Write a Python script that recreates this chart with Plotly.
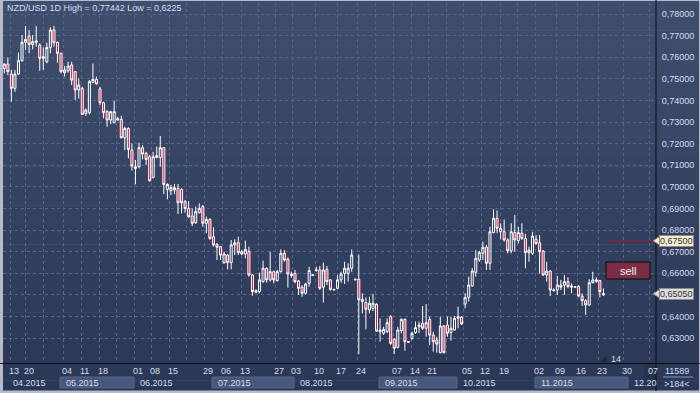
import plotly.graph_objects as go

# ---------------- data ----------------
opens = [
    .7548, .7568, .7522, .7456, .7522, .7584, .7669, .7698, .7659, .7669,
    .7656, .7595, .7579, .7645, .7726, .7669, .7618, .7528, .7537, .7564,
    .7533, .7448, .7456, .7340, .7343, .7483, .7497, .7453, .7389, .7348,
    .7309, .7297, .7309, .7312, .7227, .7270, .7170, .7085, .7093, .7181,
    .7155, .7139, .7044, .7136, .7136, .7181, .6988, .6982, .6985, .6993,
    .6988, .6931, .6900, .6865, .6834, .6880,
    .6908, .6831, .6849, .6769, .6734, .6723, .6649, .6684, .6649, .6731,
    .6741, .6700, .6689, .6700, .6592, .6512, .6515, .6561, .6623, .6569,
    .6607, .6566, .6607, .6692, .6664, .6589, .6599, .6564, .6535, .6507,
    .6553, .6590, .6612, .6615, .6535, .6618, .6569, .6522, .6530, .6569,
    .6599, .6599, .6623, .6569, .6572, .6479, .6464, .6430, .6437, .6456,
    .6329, .6322, .6329, .6399, .6294, .6257, .6334, .6386, .6280, .6298,
    .6325, .6352, .6368, .6345, .6386, .6314, .6291, .6232, .6356, .6360,
    .6325, .6337, .6391, .6396, .6457, .6488, .6541, .6604, .6661, .6692,
    .6720, .6646, .6788, .6854, .6792, .6792, .6754, .6704, .6788, .6751,
    .6785, .6761, .6695, .6692, .6757, .6741, .6703, .6592, .6610, .6519,
    .6522, .6545, .6545, .6561, .6535, .6535, .6538, .6494, .6473, .6453,
    .6556, .6561, .6566, .6500,
]
highs = [
    .7572, .7599, .7541, .7541, .7622, .7703, .7744, .7726, .7703, .7744,
    .7664, .7645, .7667, .7738, .7744, .7672, .7621, .7559, .7579, .7579,
    .7536, .7502, .7463, .7363, .7494, .7571, .7510, .7463, .7394, .7355,
    .7352, .7398, .7324, .7328, .7278, .7275, .7201, .7124, .7204, .7193,
    .7162, .7147, .7162, .7186, .7235, .7184, .7016, .7008, .7013, .7013,
    .6993, .6939, .6934, .6900, .6908, .6923,
    .6916, .6862, .6854, .6812, .6739, .6726, .6700, .6689, .6754, .6757,
    .6769, .6707, .6751, .6723, .6596, .6525, .6603, .6658, .6626, .6700,
    .6612, .6615, .6710, .6707, .6674, .6607, .6615, .6569, .6545, .6556,
    .6630, .6594, .6630, .6633, .6649, .6633, .6572, .6527, .6592, .6607,
    .6653, .6646, .6710, .6574, .6687, .6507, .6488, .6491, .6504, .6461,
    .6391, .6352, .6391, .6406, .6298, .6352, .6391, .6391, .6286, .6329,
    .6376, .6376, .6448, .6457, .6399, .6329, .6306, .6399, .6360, .6399,
    .6399, .6402, .6445, .6402, .6507, .6584, .6623, .6707, .6704, .6746,
    .6731, .6815, .6896, .6890, .6831, .6849, .6762, .6831, .6869, .6815,
    .6831, .6782, .6723, .6792, .6777, .6777, .6707, .6653, .6615, .6530,
    .6587, .6569, .6592, .6581, .6553, .6541, .6545, .6507, .6479, .6572,
    .6607, .6581, .6569, .6530,
]
lows = [
    .7525, .7517, .7394, .7440, .7517, .7579, .7633, .7618, .7636, .7649,
    .7537, .7541, .7572, .7618, .7649, .7574, .7525, .7510, .7528, .7471,
    .7402, .7409, .7332, .7328, .7335, .7479, .7474, .7378, .7317, .7278,
    .7290, .7294, .7306, .7224, .7170, .7132, .7075, .7011, .7085, .7127,
    .7101, .7024, .7039, .7132, .7093, .6966, .6942, .6962, .6966, .6874,
    .6877, .6880, .6858, .6818, .6828, .6877,
    .6815, .6785, .6754, .6723, .6661, .6661, .6643, .6618, .6618, .6684,
    .6684, .6684, .6669, .6584, .6496, .6507, .6507, .6556, .6556, .6561,
    .6553, .6561, .6603, .6653, .6533, .6579, .6553, .6499, .6491, .6502,
    .6538, .6588, .6607, .6522, .6464, .6545, .6519, .6520, .6525, .6556,
    .6550, .6561, .6607, .6567, .6225, .6414, .6340, .6414, .6425, .6329,
    .6283, .6314, .6322, .6268, .6226, .6252, .6322, .6241, .6278, .6291,
    .6319, .6322, .6337, .6306, .6268, .6237, .6232, .6229, .6229, .6306,
    .6288, .6334, .6345, .6360, .6437, .6468, .6538, .6584, .6653, .6661,
    .6615, .6615, .6785, .6785, .6757, .6746, .6692, .6692, .6700, .6738,
    .6754, .6623, .6653, .6684, .6731, .6599, .6587, .6561, .6494, .6515,
    .6499, .6522, .6499, .6530, .6507, .6532, .6491, .6448, .6407, .6448,
    .6553, .6556, .6488, .6495,
]
closes = [
    .7568, .7533, .7456, .7522, .7584, .7669, .7682, .7659, .7672, .7675,
    .7595, .7602, .7645, .7726, .7667, .7618, .7533, .7541, .7559, .7494,
    .7448, .7471, .7335, .7355, .7487, .7497, .7476, .7389, .7343, .7309,
    .7348, .7348, .7315, .7227, .7270, .7173, .7096, .7093, .7181, .7152,
    .7127, .7028, .7139, .7144, .7181, .7011, .7011, .6997, .6996, .6926,
    .6926, .6900, .6861, .6831, .6885, .6900,
    .6831, .6849, .6761, .6731, .6720, .6684, .6689, .6649, .6731, .6741,
    .6695, .6689, .6710, .6592, .6515, .6519, .6569, .6623, .6569, .6607,
    .6569, .6607, .6692, .6661, .6596, .6596, .6561, .6530, .6507, .6550,
    .6612, .6592, .6615, .6530, .6615, .6561, .6525, .6525, .6569, .6596,
    .6623, .6623, .6684, .6572, .6476, .6468, .6433, .6461, .6461, .6332,
    .6337, .6340, .6371, .6275, .6252, .6337, .6386, .6283, .6283, .6322,
    .6348, .6360, .6345, .6371, .6314, .6283, .6272, .6356, .6232, .6322,
    .6345, .6391, .6399, .6365, .6487, .6545, .6610, .6669, .6695, .6720,
    .6646, .6792, .6854, .6808, .6808, .6754, .6704, .6792, .6754, .6788,
    .6761, .6695, .6707, .6772, .6738, .6700, .6592, .6610, .6522, .6522,
    .6545, .6535, .6561, .6538, .6541, .6538, .6494, .6473, .6453, .6556,
    .6569, .6569, .6515, .6505,
]

title_text = "NZD/USD 1D High = 0,77442 Low = 0,6225"
price_ticks = [0.63, 0.64, 0.65, 0.66, 0.67, 0.68, 0.69, 0.70,
               0.71, 0.72, 0.73, 0.74, 0.75, 0.76, 0.77, 0.78]
day_labels = ["13", "20", "04", "11", "18", "01", "08", "15", "29", "06",
              "13", "27", "03", "10", "17", "24", "07", "14", "21", "05",
              "12", "19", "02", "09", "16", "23", "30", "07"]
month_labels = ["04.2015", "05.2015", "06.2015", "07.2015", "08.2015",
                "09.2015", "10.2015", "11.2015", "12.20"]
sell_level = 0.675
bid_level = 0.6505
bar_counter = "11589"
bars_shown = ">184<"
timer_label = "14"

# ---------------- layout helpers (pixel geometry) ----------------
W, H = 700, 393
PL, PR, PT, PB = 3, 656, 3, 363       # plot box in pixels
BAR_PX, BAR0_PX = 3.545, 4.3         # bar spacing / first bar position


def xp(px):
    return (px - PL) / (PR - PL)


def yp(py):
    return (PB - py) / (PB - PT)


x_lo = (PL - BAR0_PX) / BAR_PX
x_hi = (PR - BAR0_PX) / BAR_PX
px_per_unit = 2160.0
y_hi = 0.78 + (14 - PT) / px_per_unit
y_lo = y_hi - (PB - PT) / px_per_unit

day_label_px = [7, 22, 60, 78, 96, 131, 148, 166, 201, 219, 238, 272, 289, 312,
                334, 354, 390, 408, 425, 460, 478, 497, 532, 553, 574, 595, 620, 646]
grid_px = [10, 25, 43, 63, 81, 99, 116, 134, 151, 169, 186, 204, 222, 241, 258,
           275, 292, 315, 337, 357, 375, 393, 411, 428, 446, 463, 481, 500, 517,
           535, 556, 577, 598, 623, 649]
month_box_px = [3, 60, 134, 212, 294, 379, 457, 535, 628, 656]

xs = list(range(len(opens)))

# tick texts: the bid pointer covers the 0,65000 label in the reference
tick_text = []
for v in price_ticks:
    s = ("%.5f" % v).replace(".", ",")
    tick_text.append("" if abs(v - bid_level) < 0.001 else s)

fig = go.Figure()
fig.add_trace(go.Candlestick(
    x=xs, open=opens, high=highs, low=lows, close=closes,
    increasing=dict(line=dict(color="#ffffff", width=1), fillcolor="rgba(0,0,0,0)"),
    decreasing=dict(line=dict(color="#ffffff", width=1), fillcolor="#e8143c"),
    whiskerwidth=0, hoverinfo="skip", showlegend=False,
))

shapes = []
# background gradient
top_c = (64, 78, 110)
bot_c = (42, 55, 86)
n_bands = 40
for i in range(n_bands):
    t = i / (n_bands - 1)
    c = tuple(int(round(top_c[k] + (bot_c[k] - top_c[k]) * t)) for k in range(3))
    y0 = 1 + (390 - 1) * i / n_bands
    y1 = 1 + (390 - 1) * (i + 1) / n_bands
    shapes.append(dict(type="rect", xref="paper", yref="paper", layer="below",
                       x0=xp(3), x1=xp(699), y0=yp(y1 + 0.5), y1=yp(y0),
                       fillcolor="rgb(%d,%d,%d)" % c, line=dict(width=0)))

# month boxes in the time scale
for i in range(len(month_labels)):
    if i % 2 == 1 and i < 8:
        shapes.append(dict(type="rect", xref="paper", yref="paper", layer="below",
                           x0=xp(month_box_px[i]), x1=xp(month_box_px[i + 1]),
                           y0=yp(388), y1=yp(377),
                           fillcolor="#48577c", line=dict(color="#58678c", width=1)))
# future area shading on the time scale
shapes.append(dict(type="rect", xref="paper", yref="paper", layer="below",
                   x0=xp(644), x1=xp(656), y0=yp(389), y1=yp(364),
                   fillcolor="#27324c", line=dict(width=0)))

# separators
shapes.append(dict(type="line", xref="paper", yref="paper", x0=xp(0), x1=xp(700),
                   y0=yp(363.5), y1=yp(363.5), line=dict(color="#0c0c10", width=1)))
shapes.append(dict(type="line", xref="paper", yref="paper", x0=xp(656), x1=xp(656),
                   y0=yp(391), y1=yp(0), line=dict(color="#0c0c10", width=1)))
shapes.append(dict(type="line", xref="paper", yref="paper", x0=xp(663), x1=xp(693),
                   y0=yp(377), y1=yp(377), line=dict(color="#8a96b0", width=1)))

# sell line and sell button
shapes.append(dict(type="line", xref="paper", yref="y", x0=xp(607), x1=xp(656),
                   y0=sell_level, y1=sell_level, line=dict(color="#a01c2c", width=1)))
shapes.append(dict(type="rect", xref="paper", yref="paper",
                   x0=xp(606), x1=xp(650), y0=yp(279), y1=yp(262),
                   fillcolor="#7a2e46", line=dict(color="#0a0a0a", width=1)))

# price pointer arrows
for lvl, col in ((sell_level, "#f3efd0"), (bid_level, "#dcdde0")):
    ypx = 14 + (0.78 - lvl) * px_per_unit
    path = "M %f,%f L %f,%f L %f,%f Z" % (
        xp(653), yp(ypx), xp(660), yp(ypx - 4.5), xp(660), yp(ypx + 4.5))
    shapes.append(dict(type="path", xref="paper", yref="paper", path=path,
                       fillcolor=col, line=dict(color="#8a8a80", width=1)))

# small timer triangle
shapes.append(dict(type="path", xref="paper", yref="paper",
                   path="M %f,%f L %f,%f L %f,%f Z" % (xp(600), yp(362), xp(607), yp(362),
                                                       xp(607), yp(356)),
                   fillcolor="#222b40", line=dict(width=0)))

annotations = []
font_main = "Liberation Sans, Arial, sans-serif"
txt_col = "#d6deee"
annotations.append(dict(text=title_text, xref="paper", yref="paper", x=xp(5), y=yp(8),
                        xanchor="left", yanchor="middle", showarrow=False,
                        font=dict(family=font_main, size=9, color=txt_col)))
for lab, px in zip(day_labels, day_label_px):
    annotations.append(dict(text=lab, xref="paper", yref="paper", x=xp(px), y=yp(371),
                            xanchor="left", yanchor="middle", showarrow=False,
                            font=dict(family=font_main, size=9, color=txt_col)))
for i, lab in enumerate(month_labels):
    px = month_box_px[i] + 4 if i > 0 else 11
    annotations.append(dict(text=lab, xref="paper", yref="paper", x=xp(px), y=yp(382.5),
                            xanchor="left", yanchor="middle", showarrow=False,
                            font=dict(family=font_main, size=9, color=txt_col)))
annotations.append(dict(text=bar_counter, xref="paper", yref="paper", x=xp(677), y=yp(371),
                        xanchor="center", yanchor="middle", showarrow=False,
                        font=dict(family=font_main, size=9, color=txt_col)))
annotations.append(dict(text=bars_shown, xref="paper", yref="paper", x=xp(677), y=yp(383.5),
                        xanchor="center", yanchor="middle", showarrow=False,
                        font=dict(family=font_main, size=9, color=txt_col)))
annotations.append(dict(text=timer_label, xref="paper", yref="paper", x=xp(609), y=yp(358.5),
                        xanchor="left", yanchor="middle", showarrow=False,
                        font=dict(family=font_main, size=9, color=txt_col)))
annotations.append(dict(text="sell", xref="paper", yref="paper", x=xp(628), y=yp(270.5),
                        xanchor="center", yanchor="middle", showarrow=False,
                        font=dict(family=font_main, size=11, color="#f4f4f4")))
for lvl, col in ((sell_level, "#f3efd0"), (bid_level, "#dcdde0")):
    annotations.append(dict(text=("%.5f" % lvl).replace(".", ","), xref="paper", yref="y",
                            x=xp(659), y=lvl, xanchor="left", yanchor="middle",
                            showarrow=False, bgcolor=col, bordercolor="#8a8a80",
                            borderwidth=1, borderpad=0,
                            font=dict(family=font_main, size=9, color="#333333")))

fig.update_layout(
    width=W, height=H,
    margin=dict(l=PL, r=W - PR, t=PT, b=H - PB, pad=0),
    paper_bgcolor="#b4bccb",
    plot_bgcolor="rgba(0,0,0,0)",
    separators=", ",
    boxgap=0.18,
    showlegend=False,
    shapes=shapes,
    annotations=annotations,
    xaxis=dict(range=[x_lo, x_hi], rangeslider=dict(visible=False),
               tickvals=[(p - BAR0_PX) / BAR_PX for p in grid_px],
               showticklabels=False, ticks="", showgrid=True,
               gridcolor="#56658a", griddash="3px,3px", gridwidth=1,
               zeroline=False, showline=False, fixedrange=True),
    yaxis=dict(range=[y_lo, y_hi], side="right", tickvals=price_ticks, ticktext=tick_text,
               ticks="outside", ticklen=3, tickcolor="rgba(0,0,0,0)",
               showgrid=True, gridcolor="#56658a", griddash="3px,3px", gridwidth=1,
               tickfont=dict(family=font_main, size=9, color=txt_col),
               zeroline=False, showline=False, fixedrange=True),
)

fig.write_html("out.html", config={"displayModeBar": False},
               post_script="document.body.style.margin='0';document.body.style.overflow='hidden';")
